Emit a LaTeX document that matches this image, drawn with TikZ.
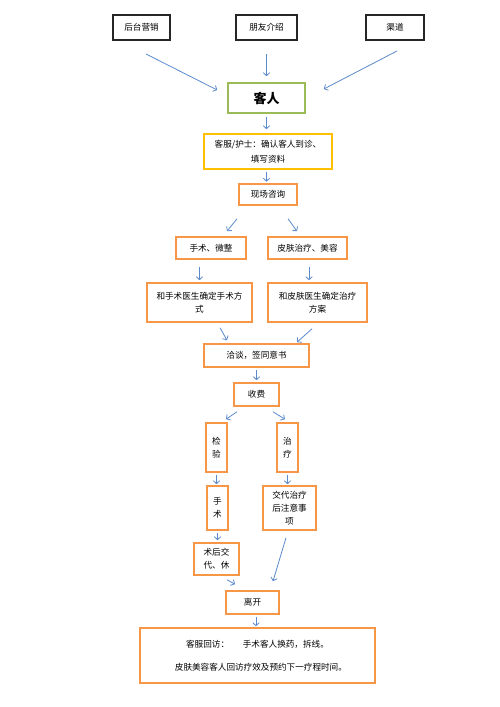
\documentclass[tikz,border=0pt]{standalone}
\usepackage{fontspec}
\setmainfont{Noto Sans CJK SC}
\usetikzlibrary{arrows.meta,calc}
\definecolor{org}{HTML}{F79646}
\definecolor{grn}{HTML}{9BBB59}
\definecolor{ylw}{HTML}{FFC000}
\definecolor{arr}{HTML}{5A8ACB}
\begin{document}
\begin{tikzpicture}[x=1pt,y=-1pt,
  fnt/.style={font=\fontsize{8.6}{13}\selectfont},
  obox/.style={draw=org, line width=1.6pt, inner sep=0pt, align=center, fnt},
  kbox/.style={draw=black!85, line width=2pt, inner sep=0pt, align=center, fnt},
  ar/.style={draw=arr, line width=0.8pt, -{Straight Barb[length=3pt,width=6.5pt]}}]
\useasboundingbox (0,0) rectangle (500,707);

% top sources
\node[kbox, minimum width=57pt, minimum height=25pt] (mk) at (141.5,27.5) {后台营销};
\node[kbox, minimum width=61pt, minimum height=25pt] (py) at (266.5,27.5) {朋友介绍};
\node[kbox, minimum width=58pt, minimum height=25pt] (qd) at (395,27.5) {渠道};

\node[draw=grn, line width=1.6pt, inner sep=0pt, minimum width=77pt, minimum height=30pt,
  font=\fontsize{13}{15}\selectfont\bfseries] (kr) at (266.5,98) {客人};

\node[draw=ylw, line width=1.6pt, inner sep=0pt, align=center, fnt, line width=1.6pt,
  minimum width=128pt, minimum height=35pt, font=\fontsize{8.6}{15}\selectfont] (kf) at (268,151.5) {客服/护士：确认客人到诊、\\填写资料};

\node[obox, minimum width=58pt, minimum height=21pt] (xc) at (268,194.5) {现场咨询};

\node[obox, minimum width=70pt, minimum height=22pt] (ss) at (211,248) {手术、微整};
\node[obox, minimum width=79pt, minimum height=22pt] (pf) at (307.5,248) {皮肤治疗、美容};

\node[obox, minimum width=105pt, minimum height=39pt] (hs) at (199.5,302.5) {和手术医生确定手术方\\式};
\node[obox, minimum width=99pt, minimum height=39pt] (hp) at (317.5,302.5) {和皮肤医生确定治疗\\方案};

\node[obox, minimum width=105pt, minimum height=23pt] (qt) at (256.5,355.5) {洽谈，签同意书};
\node[obox, minimum width=45pt, minimum height=23pt] (sf) at (256.5,394.5) {收费};

\node[obox, minimum width=21pt, minimum height=49pt] (jy) at (216.5,447.5) {检\\验};
\node[obox, minimum width=21pt, minimum height=49pt] (zl) at (287.5,447.5) {治\\疗};

\node[obox, minimum width=21pt, minimum height=44pt] (sh) at (217.5,508) {手\\术};
\node[obox, minimum width=53pt, minimum height=44pt] (jd) at (289.5,508) {交代治疗\\后注意事\\项};

\node[obox, minimum width=45pt, minimum height=32pt] (sd) at (216.5,559) {术后交\\代、休};
\node[obox, minimum width=53pt, minimum height=23pt] (lk) at (252.5,602.5) {离开};

\node[obox, minimum width=235pt, minimum height=55pt, font=\fontsize{8.6}{23}\selectfont] (hf) at (257.5,655.5)
  {客服回访：\hspace{1.6em}手术客人换药，拆线。\\\hspace{0.8em}皮肤美容客人回访疗效及预约下一疗程时间。};

% connectors
\draw[ar] ($(mk.south)+(4.5,13)$) -- ($(kr.west)+(-10,-8)$);
\draw[ar] ($(py.south)+(0,13)$) -- ($(kr.north)+(0,-6)$);
\draw[ar] ($(qd.south)+(2,10)$) -- ($(kr.east)+(18,-9)$);
\draw[ar, shorten <=3pt, shorten >=4pt] (kr.south) -- (kr.south |- kf.north);
\draw[ar, shorten <=2pt, shorten >=1.5pt] (kr.south |- kf.south) -- (kr.south |- xc.north);
\draw[ar] ($(xc.south)+(-31,13)$) -- ($(ss.north)+(16,-5)$);
\draw[ar] ($(xc.south)+(20,13)$) -- ($(pf.north)+(-10.5,-5)$);
\draw[ar] ($(ss.south -| hs.north)+(0,7)$) -- ($(hs.north)+(0,-2)$);
\draw[ar] ($(pf.south)+(1.5,7)$) -- ($(pf.south |- hp.north)+(1.5,-2)$);
\draw[ar] ($(hs.south)+(20.5,5)$) -- ($(qt.north)+(-29.5,-3)$);
\draw[ar] ($(hp.south)+(-5.5,6)$) -- ($(qt.north)+(40.5,-1)$);
\draw[ar, shorten <=2pt, shorten >=2pt] (qt.south) -- (sf.north);
\draw[ar] ($(sf.south)+(-19.5,5)$) -- ($(jy.north)+(9.5,-3)$);
\draw[ar] ($(sf.south)+(16.5,5)$) -- ($(zl.north)+(-2.5,-3)$);
\draw[ar, shorten <=2pt, shorten >=1pt] (jy.south) -- (jy.south |- sh.north);
\draw[ar, shorten <=2pt, shorten >=1pt] (zl.south) -- (zl.south |- jd.north);
\draw[ar, shorten <=2pt, shorten >=2pt] (sh.south) -- (sh.south |- sd.north);
\draw[ar] ($(sd.south)+(10.5,4)$) -- ($(lk.north)+(-17.5,-6)$);
\draw[ar] ($(jd.south)+(-3.5,7)$) -- ($(lk.north)+(20.5,-9)$);
\draw[ar] ($(lk.south)+(3.5,2)$) -- ($(lk.south |- hf.north)+(3.5,-1)$);
\end{tikzpicture}
\end{document}
